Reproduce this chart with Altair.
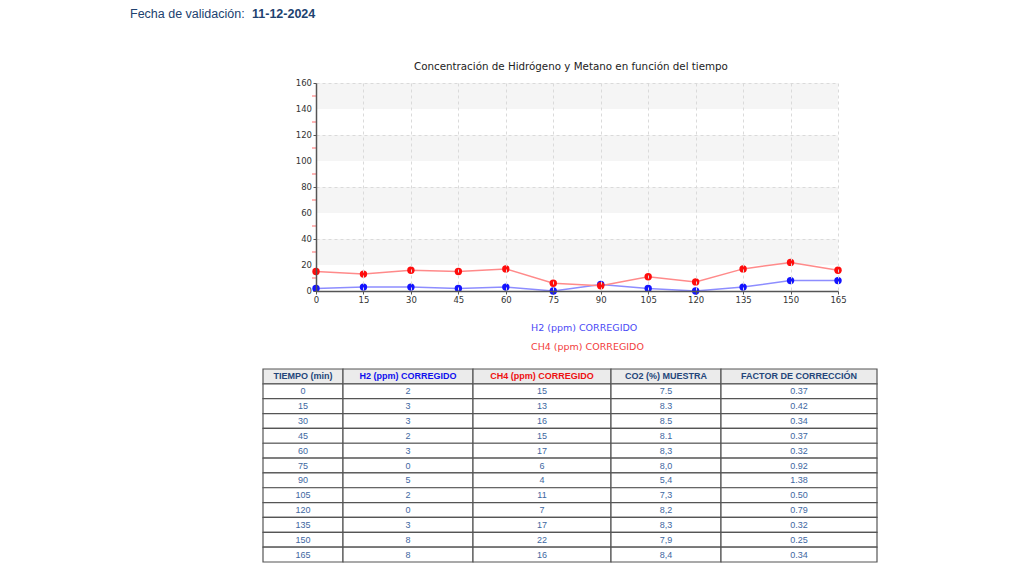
import altair as alt
import pandas as pd

# ---------------- data ----------------
tiempo = [0, 15, 30, 45, 60, 75, 90, 105, 120, 135, 150, 165]
h2 = [2, 3, 3, 2, 3, 0, 5, 2, 0, 3, 8, 8]
ch4 = [15, 13, 16, 15, 17, 6, 4, 11, 7, 17, 22, 16]
co2 = ["7.5", "8.3", "8.5", "8.1", "8,3", "8,0", "5,4", "7,3", "8,2", "8,3", "7,9", "8,4"]
factor = ["0.37", "0.42", "0.34", "0.37", "0.32", "0.92", "1.38", "0.50", "0.79", "0.32", "0.25", "0.34"]
series_names = ["H2 (ppm) CORREGIDO", "CH4 (ppm) CORREGIDO"]
table_headers = ["TIEMPO (min)", "H2 (ppm) CORREGIDO", "CH4 (ppm) CORREGIDO",
                 "CO2 (%) MUESTRA", "FACTOR DE CORRECCIÓN"]
y_ticks = [0, 20, 40, 60, 80, 100, 120, 140, 160]
chart_title = "Concentración de Hidrógeno y Metano en función del tiempo"
header_label = "Fecha de validación:"
header_date = "11-12-2024"

# ---------------- layout / style constants ----------------
PLOT_W, PLOT_H = 522, 208
col_widths = [80, 130, 138, 110, 156]
table_shift = -53
TABLE_H = 193
HEADER_H = 53
LEGEND_H = 64
legend_rows = [24, 43]
point_colors = ["#1414ff", "#ff0d0d"]
line_colors = ["#8d8dff", "#ff8a8a"]
legend_colors = ["#4a4af5", "#f23c3c"]
header_colors = ["#24467a", "#1010ee", "#ee1010", "#24467a", "#24467a"]
navy = "#21426f"
body_color = "#3e679f"

# ---------------- header ----------------
head_df = pd.DataFrame({"label": [header_label], "date": [header_date]})
head_base = alt.Chart(head_df)
head = alt.layer(
    head_base.mark_text(align="left", baseline="top", font="Liberation Sans",
                        fontSize=12.5, color=navy).encode(
        x=alt.value(-186), y=alt.value(0), text="label:N"),
    head_base.mark_text(align="left", baseline="top", font="Liberation Sans",
                        fontSize=12.5, fontWeight="bold", color=navy).encode(
        x=alt.value(-64), y=alt.value(0), text="date:N"),
).properties(width=PLOT_W, height=HEADER_H)

# ---------------- line chart ----------------
long_df = pd.DataFrame({
    "tiempo": tiempo * 2,
    "valor": h2 + ch4,
    "serie": [series_names[0]] * len(tiempo) + [series_names[1]] * len(tiempo),
})
band_df = pd.DataFrame({"y0": y_ticks[1::2], "y1": y_ticks[2::2]})
minor_df = pd.DataFrame({"m": [(a + b) / 2 for a, b in zip(y_ticks[:-1], y_ticks[1:])]})
ylab_df = pd.DataFrame({"v": y_ticks})

xs = alt.Scale(domain=[tiempo[0], tiempo[-1]], nice=False, zero=False)
ys = alt.Scale(domain=[y_ticks[0], y_ticks[-1]], nice=False)

x_axis = alt.Axis(values=tiempo, title=None, labelAngle=0, labelFont="DejaVu Sans",
                  labelFontSize=8.5, labelColor="#333", labelPadding=1, tickSize=3,
                  labelFlush=False, labelOverlap=False, zindex=1,
                  tickColor="#555", domainColor="#555", domainWidth=1.5,
                  gridColor="#dadada", gridDash=[3, 3], gridWidth=1)
y_axis = alt.Axis(values=y_ticks, title=None, labels=False, tickSize=3, zindex=1,
                  tickColor="#555", domainColor="#555", domainWidth=1.5,
                  gridColor="#dadada", gridDash=[3, 3], gridWidth=1)

bands = alt.Chart(band_df).mark_rect(color="#f5f5f5").encode(
    y=alt.Y("y0:Q", scale=ys, axis=y_axis), y2="y1:Q")

minor_ticks = alt.Chart(minor_df).mark_tick(color="#ff5050", size=4, thickness=1.2,
                                             orient="horizontal").encode(
    y=alt.Y("m:Q", scale=ys), x=alt.value(-2))

y_labels = alt.Chart(ylab_df).mark_text(align="right", baseline="middle", font="DejaVu Sans",
                                         fontSize=8.5, color="#333").encode(
    y=alt.Y("v:Q", scale=ys), x=alt.value(-4), text="v:Q")

lines = alt.Chart(long_df).mark_line(strokeWidth=1.5).encode(
    x=alt.X("tiempo:Q", scale=xs, axis=x_axis),
    y=alt.Y("valor:Q", scale=ys),
    color=alt.Color("serie:N", scale=alt.Scale(domain=series_names, range=line_colors), legend=None),
    detail="serie:N",
)
points = alt.Chart(long_df).mark_circle(size=55, opacity=1).encode(
    x=alt.X("tiempo:Q", scale=xs),
    y=alt.Y("valor:Q", scale=ys),
    color=alt.Color("serie:N", scale=alt.Scale(domain=series_names, range=point_colors), legend=None),
)

main = alt.layer(bands, lines, points, minor_ticks, y_labels).resolve_scale(
    color="independent").properties(
    width=PLOT_W, height=PLOT_H,
    title=alt.TitleParams(chart_title, font="DejaVu Sans", fontSize=10.3, fontWeight="normal",
                          color="#222", anchor="middle", frame="bounds", offset=7),
)

# ---------------- legend ----------------
leg_df = pd.DataFrame({"serie": series_names})
legend = alt.Chart(leg_df).mark_text(align="left", baseline="middle", font="DejaVu Sans",
                                      fontSize=9.5).encode(
    x=alt.value(215),
    y=alt.Y("serie:N", sort=series_names, axis=None,
            scale=alt.Scale(type="point", domain=series_names, range=legend_rows, padding=0)),
    text="serie:N",
    color=alt.Color("serie:N", scale=alt.Scale(domain=series_names, range=legend_colors), legend=None),
).properties(width=PLOT_W, height=LEGEND_H)

# ---------------- table ----------------
col_values = [[str(t) for t in tiempo], [str(v) for v in h2], [str(v) for v in ch4], co2, factor]
edges = [0]
for w in col_widths:
    edges.append(edges[-1] + w)
recs = []
for c, head_txt in enumerate(table_headers):
    recs.append(dict(row=0, col=head_txt, x0=edges[c], x1=edges[c + 1],
                     xc=(edges[c] + edges[c + 1]) / 2, text=head_txt, kind="header"))
    for r, v in enumerate(col_values[c]):
        recs.append(dict(row=r + 1, col=head_txt, x0=edges[c], x1=edges[c + 1],
                         xc=(edges[c] + edges[c + 1]) / 2, text=v, kind="body"))
tab_df = pd.DataFrame(recs)

tx = alt.Scale(domain=[0, edges[-1]], range=[table_shift, table_shift + edges[-1]], nice=False, zero=False)
ty = alt.Scale(paddingInner=0, paddingOuter=0)
tbase = alt.Chart(tab_df)
cells = tbase.mark_rect(stroke="#555555", strokeWidth=1.2).encode(
    x=alt.X("x0:Q", scale=tx, axis=None), x2="x1:Q",
    y=alt.Y("row:O", scale=ty, axis=None),
    fill=alt.condition("datum.kind == 'header'", alt.value("#ebebeb"), alt.value("#ffffff")),
)
head_txt_layer = tbase.transform_filter("datum.kind == 'header'").mark_text(
    font="Liberation Sans", fontSize=9, fontWeight="bold", baseline="middle").encode(
    x=alt.X("xc:Q", scale=tx), y=alt.Y("row:O", scale=ty), text="text:N",
    color=alt.Color("col:N", scale=alt.Scale(domain=table_headers, range=header_colors), legend=None),
)
body_txt_layer = tbase.transform_filter("datum.kind == 'body'").mark_text(
    font="Liberation Sans", fontSize=9, baseline="middle").encode(
    x=alt.X("xc:Q", scale=tx), y=alt.Y("row:O", scale=ty), text="text:N",
    color=alt.value(body_color),
)
table = alt.layer(cells, head_txt_layer, body_txt_layer).properties(width=PLOT_W, height=TABLE_H)

chart = alt.vconcat(head, main, legend, table, spacing=0).resolve_scale(
    color="independent"
).properties(
    padding={"left": 122, "top": 0, "right": 0, "bottom": 0}
).configure_view(strokeWidth=0)

chart.save("out.html", embed_options={"renderer": "svg", "actions": False})
